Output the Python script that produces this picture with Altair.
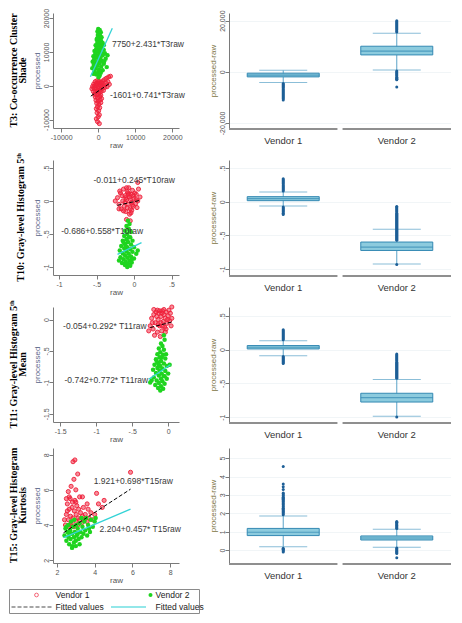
import altair as alt
import pandas as pd

VENDORS = ["Vendor 1", "Vendor 2"]
RED = "#f0223c"
GREEN = "#1fd41f"
CYAN = "#33d3d6"
BOX_FILL = "#8ccbde"
BOX_STROKE = "#3489b3"
WHISKER = "#5aa3c8"
OUTLIER = "#1d5f97"

ROW_TITLES = [
    ["T3: Co-occurrence Cluster", "Shade"],
    ["T10: Gray-level Histogram 5\u1d57\u02b0"],
    ["T11: Gray-level Histogram 5\u1d57\u02b0", "Mean"],
    ["T15: Gray-level Histogram", "Kurtosis"],
]

# ---------------- scatter data (raw, processed) ----------------
T3_V1 = [(-800, 1200), (-300, 1500), (200, 1300), (700, 1000), (1200, 1400), (1700, 1800), (2200, 2200),
         (2800, 2600), (3300, 2800), (-1200, 500), (-600, 600), (0, 800), (500, 400), (1000, 700), (1500, 300),
         (2000, 900), (2600, 1200), (-1500, -200), (-900, -100), (-400, 100), (100, -300), (600, 0), (1100, -200),
         (1800, -500), (-1700, -900), (-1100, -800), (-500, -1000), (0, -700), (500, -1100), (1000, -900),
         (1400, -1400), (-1300, -1700), (-700, -1800), (-200, -1500), (300, -2000), (800, -1700), (-1000, -2500),
         (-400, -2700), (200, -2400), (700, -2800), (-800, -3300), (-200, -3600), (400, -3200), (900, -3800),
         (-600, -4300), (0, -4600), (500, -4200), (-400, -5200), (200, -5500), (700, -5000), (-200, -6200),
         (400, -6500), (-500, -6800), (100, -7400), (-300, -8000), (300, -8600), (0, -9200), (-500, -9800),
         (-200, -10600), (300, -11200), (3000, 400), (2400, -300)]
T3_V2 = [(0, 16800), (400, 16500), (-200, 16000), (300, 15500), (700, 15800), (-100, 15000), (500, 14800),
         (0, 14200), (900, 14300), (-400, 13600), (300, 13500), (800, 13200), (-200, 12800), (500, 12500),
         (1200, 12600), (-700, 12000), (100, 11800), (900, 11500), (-500, 11000), (400, 10800), (1500, 10600),
         (-1000, 10300), (-100, 10200), (700, 9900), (1800, 9600), (-800, 9400), (200, 9200), (1200, 9000),
         (-1300, 8700), (-400, 8500), (600, 8300), (2000, 8000), (-1100, 7800), (0, 7600), (1000, 7400),
         (-1500, 7100), (-600, 6900), (400, 6700), (1500, 6500), (-1200, 6100), (-200, 5900), (800, 5700),
         (2300, 5500), (-1600, 5200), (-800, 5000), (200, 4800), (1200, 4600), (-1000, 4200), (0, 4000),
         (700, 3800), (-500, 3300), (400, 3000), (-1200, 3500), (100, 2500), (1600, 7200), (2500, 9000),
         (-300, 14000), (1500, 12000)]
T10_V1 = [(-0.22, 0.05), (-0.2, -0.05), (-0.18, 0.12), (-0.17, -0.12), (-0.15, 0.0), (-0.14, 0.18),
          (-0.13, -0.08), (-0.12, 0.08), (-0.11, -0.16), (-0.1, 0.02), (-0.09, 0.14), (-0.08, -0.05),
          (-0.07, 0.2), (-0.06, 0.06), (-0.05, -0.12), (-0.04, 0.1), (-0.03, -0.02), (-0.02, 0.16),
          (-0.01, -0.08), (0.0, 0.04), (0.02, -0.04), (0.03, 0.1), (0.05, 0.0), (0.06, 0.18), (0.08, 0.06),
          (-0.16, 0.08), (-0.12, -0.02), (-0.09, -0.1), (-0.07, 0.1), (-0.05, 0.02), (-0.03, -0.14),
          (-0.01, 0.08), (0.01, 0.12), (-0.19, 0.15), (-0.1, 0.2), (-0.04, -0.18), (-0.14, -0.15),
          (-0.06, -0.2), (0.04, -0.1), (-0.2, -0.12), (-0.25, 0.0), (-0.08, 0.12), (-0.11, 0.05),
          (-0.02, -0.06), (0.03, 0.02), (-0.1, -0.28), (-0.05, -0.3), (0.05, 0.28)]
T10_V2 = [(-0.08, -0.3), (-0.06, -0.35), (-0.1, -0.38), (-0.07, -0.42), (-0.12, -0.45), (-0.04, -0.47),
          (-0.09, -0.5), (-0.13, -0.53), (-0.05, -0.55), (-0.1, -0.58), (-0.15, -0.6), (-0.02, -0.6),
          (-0.08, -0.62), (-0.12, -0.65), (-0.04, -0.66), (-0.17, -0.68), (-0.09, -0.7), (0.0, -0.7),
          (-0.13, -0.72), (-0.05, -0.73), (-0.19, -0.75), (-0.1, -0.76), (-0.02, -0.77), (-0.15, -0.79),
          (-0.07, -0.8), (0.03, -0.8), (-0.12, -0.82), (-0.04, -0.84), (-0.18, -0.85), (-0.09, -0.86),
          (0.0, -0.87), (-0.14, -0.88), (-0.06, -0.9), (-0.11, -0.92), (-0.03, -0.93), (-0.16, -0.94),
          (-0.08, -0.95), (-0.12, -0.97), (-0.05, -0.98), (-0.09, -1.0), (-0.2, -0.9), (0.05, -0.75),
          (-0.07, -0.55), (-0.11, -0.68), (-0.03, -0.88), (-0.14, -0.62), (-0.06, -0.45)]
T11_V1 = [(-0.25, -0.1), (-0.23, 0.02), (-0.21, -0.15), (-0.2, 0.08), (-0.18, -0.05), (-0.17, 0.12),
          (-0.15, -0.2), (-0.14, 0.0), (-0.13, 0.1), (-0.12, -0.1), (-0.1, 0.05), (-0.09, -0.18),
          (-0.08, 0.14), (-0.07, -0.03), (-0.06, 0.08), (-0.05, -0.12), (-0.04, 0.02), (-0.03, 0.12),
          (-0.02, -0.06), (0.0, 0.06), (0.02, -0.02), (0.03, 0.1), (0.05, 0.02), (-0.19, -0.25),
          (-0.11, -0.27), (-0.16, 0.05), (-0.1, -0.05), (-0.08, -0.1), (-0.12, 0.14), (-0.04, -0.2),
          (-0.01, 0.0), (-0.22, -0.05), (-0.15, 0.15), (-0.06, 0.16), (0.01, 0.15), (0.04, -0.1),
          (-0.2, 0.16), (-0.27, -0.18), (0.05, 0.2), (-0.09, 0.1), (-0.14, -0.08), (-0.03, -0.15)]
T11_V2 = [(-0.06, -0.25), (-0.05, -0.32), (-0.1, -0.38), (-0.08, -0.42), (-0.13, -0.46), (-0.06, -0.48),
          (-0.11, -0.52), (-0.15, -0.55), (-0.07, -0.56), (-0.12, -0.6), (-0.17, -0.63), (-0.04, -0.62),
          (-0.1, -0.66), (-0.14, -0.69), (-0.06, -0.7), (-0.19, -0.72), (-0.11, -0.74), (-0.02, -0.74),
          (-0.15, -0.77), (-0.08, -0.78), (-0.21, -0.8), (-0.12, -0.81), (-0.04, -0.82), (-0.17, -0.85),
          (-0.09, -0.86), (0.0, -0.86), (-0.13, -0.89), (-0.06, -0.9), (-0.2, -0.92), (-0.1, -0.94),
          (-0.02, -0.94), (-0.16, -0.97), (-0.08, -0.98), (-0.13, -1.01), (-0.05, -1.02), (-0.18, -1.04),
          (-0.1, -1.06), (-0.14, -1.09), (-0.07, -1.1), (-0.11, -1.13), (-0.23, -0.97), (0.02, -0.72),
          (-0.09, -0.6), (-0.13, -0.72), (-0.05, -0.9), (-0.16, -0.66), (-0.03, -0.55), (-0.25, -1.0)]
T15_V1 = [(2.45, 4.0), (2.5, 4.6), (2.55, 5.2), (2.6, 4.3), (2.62, 3.9), (2.65, 4.9), (2.7, 5.5), (2.72, 4.5),
          (2.75, 4.1), (2.8, 5.0), (2.82, 5.3), (2.85, 4.4), (2.9, 3.9), (2.92, 4.8), (2.95, 5.4), (3.0, 4.2),
          (3.02, 4.6), (3.05, 5.1), (3.1, 4.0), (3.12, 4.4), (3.15, 4.9), (3.2, 4.3), (3.25, 4.7), (3.3, 4.1),
          (3.35, 4.5), (3.4, 5.0), (3.45, 4.3), (3.5, 4.6), (3.6, 4.2), (3.65, 4.9), (3.7, 4.4), (3.8, 4.7),
          (3.9, 4.3), (4.0, 4.6), (4.2, 5.2), (4.4, 5.0), (4.1, 5.8), (4.5, 5.4), (2.6, 5.9), (2.75, 6.2),
          (2.9, 6.6), (3.0, 6.0), (2.85, 7.6), (2.95, 7.7), (3.1, 6.9), (5.9, 7.0), (2.5, 5.5), (2.65, 5.6),
          (3.35, 5.6), (2.4, 4.3), (2.7, 4.0), (2.55, 4.8), (3.0, 5.3), (3.2, 5.6), (3.6, 5.2)]
T15_V2 = [(2.4, 3.4), (2.45, 3.8), (2.5, 3.1), (2.55, 3.6), (2.6, 4.0), (2.62, 3.3), (2.65, 2.9), (2.7, 3.7),
          (2.72, 3.2), (2.75, 4.2), (2.8, 3.5), (2.82, 2.8), (2.85, 3.9), (2.9, 3.3), (2.92, 4.3), (2.95, 3.6),
          (3.0, 3.1), (3.02, 4.0), (3.05, 3.4), (3.1, 3.8), (3.15, 3.2), (3.2, 4.1), (3.25, 3.6), (3.3, 3.3),
          (3.35, 3.9), (3.4, 3.5), (3.45, 4.2), (3.5, 3.7), (3.6, 3.4), (3.65, 4.0), (3.7, 3.8), (3.8, 4.3),
          (3.9, 3.9), (4.0, 4.2), (4.05, 4.4), (2.8, 2.7), (3.0, 2.8), (2.5, 3.9), (3.2, 2.9), (3.55, 4.4),
          (2.65, 3.5), (2.9, 3.0), (3.1, 3.5), (3.3, 4.4), (3.75, 3.6)]

# fitted lines: (x_start, y_start, x_end, y_end)
FIT_V1 = [(-2000, -3080, 3300, 850), (-0.22, -0.065, 0.08, 0.009),
          (-0.25, -0.127, 0.05, -0.039), (2.35, 3.561, 5.9, 6.039)]
FIT_V2 = [(-2100, 2650, 3800, 16990), (-0.22, -0.809, 0.1, -0.630),
          (-0.27, -0.950, 0.03, -0.719), (2.35, 3.278, 5.9, 4.900)]

# equation labels: (x, y, text)
NOTES = [
    [(3700, 12300, "7750+2.431*T3raw"), (3150, -2600, "-1601+0.741*T3raw")],
    [(-0.54, 0.31, "-0.011+0.245*T10raw"), (-0.97, -0.45, "-0.686+0.558*T10raw")],
    [(-1.46, -0.1, "-0.054+0.292* T11raw"), (-1.44, -0.96, "-0.742+0.772* T11raw")],
    [(3.95, 6.52, "1.921+0.698*T15raw"), (4.26, 3.8, "2.204+0.457* T15raw")],
]

SC_XDOM = [[-12200, 21800], [-1.08, 0.6], [-1.6, 0.15], [1.79, 8.47]]
SC_YDOM = [[-12500, 21500], [-1.12, 0.62], [-1.63, 0.2], [1.84, 8.38]]
SC_XTICKS = [[-10000, 0, 10000, 20000], [-1, -0.5, 0, 0.5], [-1.5, -1, -0.5, 0], [2, 4, 6, 8]]
SC_YTICKS = [[-10000, 0, 10000, 20000], [-1, -0.5, 0, 0.5], [-1.5, -1, -0.5, 0], [2, 4, 6, 8]]

# ---------------- box plot data (processed - raw) ----------------
# per row: [Vendor 1, Vendor 2] each (lower, q1, median, q3, upper)
BOX_STATS = [
    [(-4200, -2000, -1300, -550, 550), (700, 6600, 8100, 10000, 15100)],
    [(-0.065, 0.015, 0.045, 0.075, 0.145), (-0.925, -0.725, -0.675, -0.6, -0.41)],
    [(-0.09, 0.01, 0.035, 0.06, 0.13), (-0.985, -0.775, -0.71, -0.645, -0.44)],
    [(0.18, 0.79, 0.97, 1.18, 1.86), (0.16, 0.55, 0.66, 0.77, 1.13)],
]
OUT_T3_V1 = [-4600, -5000, -5400, -5800, -6200, -6600, -7000, -7400, -7800, -8200, -8600, -9000,
             -9400, -9800, -10200, -10600, -11000]
OUT_T3_V2 = [15600, 16000, 16400, 16800, 17200, 17600, 18000, 18400, 18800, 19200, 19600, 20000,
             300, -100, -500, -900, -1300, -1700, -2100, -2500, -2900, -3100, -6000]
OUT_T10_V1 = [0.16, 0.175, 0.19, 0.205, 0.22, 0.235, 0.25, 0.265, 0.28, 0.295, 0.31, 0.325, 0.34,
              -0.08, -0.095, -0.11, -0.125, -0.14, -0.155, -0.17, -0.19]
OUT_T10_V2 = [-0.425, -0.44, -0.455, -0.47, -0.485, -0.5, -0.515, -0.53, -0.545, -0.56, -0.575,
              -0.41, -0.395, -0.38, -0.365, -0.35, -0.335, -0.32, -0.305, -0.29, -0.275, -0.26, -0.245,
              -0.23, -0.215, -0.2, -0.185, -0.17, -0.155, -0.14, -0.125, -0.11, -0.095, -0.08, -0.07,
              -0.935]
OUT_T11_V1 = [0.145, 0.16, 0.175, 0.19, 0.205, 0.22, 0.235, 0.25, 0.265, 0.28, 0.295,
              -0.1, -0.115, -0.13, -0.145, -0.16, -0.175, -0.19, -0.205]
OUT_T11_V2 = [-0.425, -0.41, -0.395, -0.38, -0.365, -0.35, -0.335, -0.32, -0.305, -0.29, -0.275,
              -0.26, -0.245, -0.23, -0.215, -0.2, -0.185, -0.17, -0.155, -0.14, -0.125, -0.11,
              -0.095, -0.08, -0.065, -0.995]
OUT_T15_V1 = [1.92, 1.98, 2.04, 2.1, 2.16, 2.22, 2.28, 2.34, 2.4, 2.46, 2.52, 2.58, 2.64, 2.7, 2.76,
              2.82, 2.88, 2.94, 3.0, 3.06, 3.1, 3.3, 3.45, 3.6, 4.55, 0.1, 0.05, 0.0, -0.05, -0.1]
OUT_T15_V2 = [1.17, 1.22, 1.27, 1.32, 1.37, 1.42, 1.47, 1.52, 1.55,
              0.12, 0.07, 0.02, -0.03, -0.08, -0.13, -0.18, -0.42]
OUTLIERS = [(OUT_T3_V1, OUT_T3_V2), (OUT_T10_V1, OUT_T10_V2), (OUT_T11_V1, OUT_T11_V2),
            (OUT_T15_V1, OUT_T15_V2)]
BOX_YDOM = [[-22000, 23000], [-1.09, 0.62], [-1.07, 0.63], [-0.7, 5.55]]
BOX_YTICKS = [[-20000, 0, 20000], [-1, -0.5, 0, 0.5], [-1, -0.5, 0, 0.5], [0, 1, 2, 3, 4, 5]]

LEG_LABELS = ["Vendor 1", "Vendor 2", "Fitted values", "Fitted values"]
LEG_KIND = ["v1", "v2", "f1", "f2"]
LEG_COL = [0, 1, 0, 1]
LEG_ROW = [0, 0, 1, 1]

STATA_FMT = "replace(replace(format(datum.value, '~g'), '\u2212', '-'), '0.', '.')"
COMMA_FMT = "replace(format(datum.value, ','), '\u2212', '-')"

SC_W, SC_H = 126, 115
BX_W, BX_H = 222, 115
TITLE_W = 24


def axis(values, title, fmt, vertical, title_color, **extra):
    kw = dict(values=values, title=title, labelExpr=fmt, grid=False, domainColor="#7a7a7a",
              tickColor="#7a7a7a", tickSize=4, labelColor="#555555", labelFontSize=7,
              titleFontSize=8, titleFontWeight="normal", titleColor=title_color,
              labelPadding=1, titlePadding=1)
    if vertical:
        kw.update(labelAngle=270, labelAlign="center", labelBaseline="bottom", labelPadding=0)
    kw.update(extra)
    return alt.Axis(**kw)


def scatter(i):
    v1, v2 = [T3_V1, T10_V1, T11_V1, T15_V1][i], [T3_V2, T10_V2, T11_V2, T15_V2][i]
    pts = pd.DataFrame([{"x": x, "y": y, "vendor": "Vendor 1"} for x, y in v1] +
                       [{"x": x, "y": y, "vendor": "Vendor 2"} for x, y in v2])
    f1, f2 = FIT_V1[i], FIT_V2[i]
    fits = pd.DataFrame([{"x": f1[0], "y": f1[1], "vendor": "Vendor 1"},
                         {"x": f1[2], "y": f1[3], "vendor": "Vendor 1"},
                         {"x": f2[0], "y": f2[1], "vendor": "Vendor 2"},
                         {"x": f2[2], "y": f2[3], "vendor": "Vendor 2"}])
    notes = pd.DataFrame([{"x": x, "y": y, "t": t} for x, y, t in NOTES[i]])
    X = alt.X("x:Q", scale=alt.Scale(domain=SC_XDOM[i], nice=False, zero=False),
              axis=axis(SC_XTICKS[i], "raw", STATA_FMT, False, "#555555"))
    Y = alt.Y("y:Q", scale=alt.Scale(domain=SC_YDOM[i], nice=False, zero=False),
              axis=axis(SC_YTICKS[i], "processed", STATA_FMT, True, "#5f6b8c"))
    base = alt.Chart(pts).encode(x=X, y=Y)
    red = base.transform_filter(alt.datum.vendor == "Vendor 1").mark_point(
        shape="circle", filled=False, fill=RED, fillOpacity=0.55, color=RED, size=17,
        strokeWidth=1, opacity=0.95)
    green = base.transform_filter(alt.datum.vendor == "Vendor 2").mark_circle(
        color=GREEN, size=20, opacity=1)
    fbase = alt.Chart(fits).encode(x=X, y=Y)
    l1 = fbase.transform_filter(alt.datum.vendor == "Vendor 1").mark_line(
        color="black", strokeDash=[4, 2], strokeWidth=1)
    l2 = fbase.transform_filter(alt.datum.vendor == "Vendor 2").mark_line(
        color=CYAN, strokeWidth=1.3)
    txt = alt.Chart(notes).mark_text(align="left", baseline="middle", fontSize=8.5,
                                     color="#3a3a3a").encode(x=X, y=Y, text="t:N")
    return alt.layer(red, green, l1, l2, txt).properties(width=SC_W, height=SC_H)


def boxplot(i):
    st = pd.DataFrame([{"vendor": v, "lower": s[0], "q1": s[1], "median": s[2], "q3": s[3], "upper": s[4]}
                       for v, s in zip(VENDORS, BOX_STATS[i])])
    o1, o2 = OUTLIERS[i]
    outs = pd.DataFrame([{"vendor": "Vendor 1", "value": v} for v in o1] +
                        [{"vendor": "Vendor 2", "value": v} for v in o2])
    X = alt.X("vendor:N", scale=alt.Scale(domain=VENDORS, paddingInner=0.045, paddingOuter=0.0),
              axis=alt.Axis(title=None, labelAngle=0, ticks=False, domain=False,
                            labelFontSize=9.5, labelColor="#333333", labelPadding=7, grid=False))
    ax = axis(BOX_YTICKS[i], "processed-raw", COMMA_FMT if i == 0 else STATA_FMT, True, "#7d7444",
              grid=True, gridColor="#edf2f5", gridWidth=0.8)
    Y = lambda f: alt.Y(f, scale=alt.Scale(domain=BOX_YDOM[i], nice=False, zero=False), axis=ax)
    b = alt.Chart(st)
    base_line = b.mark_bar(color="#8f8f8f").encode(x=X, y=alt.value(BX_H), y2=alt.value(BX_H + 2))
    whisk = b.mark_rule(color=WHISKER, strokeWidth=1).encode(x=X, y=Y("lower:Q"), y2="upper:Q")
    box = b.mark_bar(size=72, fill=BOX_FILL, stroke=BOX_STROKE, strokeWidth=1).encode(
        x=X, y=Y("q1:Q"), y2="q3:Q")
    med = b.mark_tick(size=72, thickness=1.2, color=BOX_STROKE).encode(x=X, y=Y("median:Q"))
    capl = b.mark_tick(size=48, thickness=1, color=WHISKER).encode(x=X, y=Y("lower:Q"))
    capu = b.mark_tick(size=48, thickness=1, color=WHISKER).encode(x=X, y=Y("upper:Q"))
    pts = alt.Chart(outs).mark_circle(size=9, color=OUTLIER, opacity=1).encode(x=X, y=Y("value:Q"))
    return alt.layer(base_line, whisk, box, med, capl, capu, pts).properties(width=BX_W, height=BX_H)


def row_title(i):
    anchor_x = 5 if len(ROW_TITLES[i]) == 2 else 12
    return alt.Chart(pd.DataFrame({"k": [0]})).mark_text(
        text=ROW_TITLES[i], angle=270, align="center", baseline="middle", font="Liberation Serif",
        fontWeight="bold", fontSize=10, lineHeight=9, color="black"
    ).encode(x=alt.value(anchor_x), y=alt.value(SC_H / 2)).properties(width=TITLE_W, height=SC_H)


rows = []
for i in range(4):
    inner = alt.hconcat(scatter(i), boxplot(i), spacing=50, bounds="flush")
    rows.append(alt.hconcat(row_title(i), inner, spacing=0))

leg = pd.DataFrame({"label": LEG_LABELS, "kind": LEG_KIND, "col": LEG_COL, "row": LEG_ROW})
LX = alt.X("col:O", axis=None, scale=alt.Scale(type="point", padding=0.5))
LY = alt.Y("row:O", axis=None, scale=alt.Scale(type="point", padding=0.5))
lb = alt.Chart(leg).encode(x=LX, y=LY)
legend = alt.layer(
    lb.transform_filter(alt.datum.kind == "f1").mark_point(
        shape="stroke", size=1600, color="black", strokeDash=[4, 2], strokeWidth=1, xOffset=-25),
    lb.transform_filter(alt.datum.kind == "f2").mark_point(
        shape="stroke", size=1225, color=CYAN, strokeWidth=1.3, xOffset=-23),
    lb.transform_filter(alt.datum.kind == "v1").mark_point(
        shape="circle", filled=False, color=RED, size=14, strokeWidth=1, xOffset=-20),
    lb.transform_filter(alt.datum.kind == "v2").mark_circle(color=GREEN, size=16, opacity=1, xOffset=-1),
    lb.transform_filter(alt.datum.col == 0).mark_text(
        align="left", baseline="middle", fontSize=8.5, color="#222222", xOffset=-1).encode(text="label:N"),
    lb.transform_filter(alt.datum.col == 1).mark_text(
        align="left", baseline="middle", fontSize=8.5, color="#222222", xOffset=4).encode(text="label:N"),
).properties(width=190, height=24, view=alt.ViewBackground(stroke="#8a8a8a", strokeWidth=1))

chart = alt.vconcat(*rows, legend, spacing=4).configure(
    font="Liberation Sans", padding=0, view=alt.ViewConfig(stroke=None))

chart.save("out.html", embed_options={"renderer": "svg", "actions": False})
